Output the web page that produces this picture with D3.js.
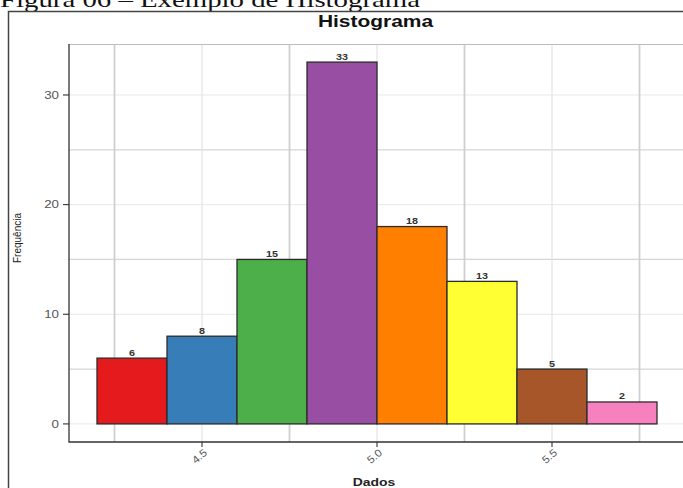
<!DOCTYPE html>
<html><head><meta charset="utf-8">
<script src="https://cdn.jsdelivr.net/npm/d3@7"></script>
<style>body{margin:0;background:#fff}svg{display:block}</style>
</head><body><svg id="c" width="683" height="488"></svg>
<script>
const binStarts = [4.2, 4.4, 4.6, 4.8, 5.0, 5.2, 5.4, 5.6];
const binWidth = 0.2;
const counts = [6, 8, 15, 33, 18, 13, 5, 2];
const colors = ["#E41A1C", "#377EB8", "#4DAF4A", "#984EA3", "#FF7F00", "#FFFF33", "#A65628", "#F781BF"];
const xTicks = [4.5, 5.0, 5.5];
const xMinor = [4.25, 4.75, 5.25, 5.75];
const yTicks = [0, 10, 20, 30];
const yMinor = [5, 15, 25];
const title = "Histograma";
const xLabel = "Dados";
const yLabel = "Frequência";
const caption = "Figura 06 – Exemplo de Histograma";

const svg = d3.select("#c");
const SX = 1.27;
const font = "'Liberation Sans', Arial, sans-serif";

const x = d3.scaleLinear().domain([4.12, 5.88]).range([69, 685]);
const y = d3.scaleLinear().domain([-1.65, 34.65]).range([442, 44]);

// caption (cut off at top in the reference)
svg.append("text").attr("x", 0).attr("y", 7)
  .attr("font-family", "'Liberation Serif', 'Times New Roman', serif")
  .attr("font-size", 21).attr("fill", "#111")
  .attr("textLength", 420).attr("lengthAdjust", "spacingAndGlyphs")
  .text(caption);

// frame
svg.append("path").attr("d", "M8.5,488 V11.5 H683").attr("fill", "none")
  .attr("stroke", "#444").attr("stroke-width", 1.5);

// grid
const g = svg.append("g");
g.selectAll(".ymaj").data(yTicks).join("line")
  .attr("x1", 69).attr("x2", 683).attr("y1", d => y(d)).attr("y2", d => y(d))
  .attr("stroke", "#e8e8e8").attr("stroke-width", 1);
g.selectAll(".ymin").data(yMinor).join("line")
  .attr("x1", 69).attr("x2", 683).attr("y1", d => y(d)).attr("y2", d => y(d))
  .attr("stroke", "#d6d6d6").attr("stroke-width", 1.2);
g.selectAll(".xmaj").data(xTicks).join("line")
  .attr("y1", 44).attr("y2", 442).attr("x1", d => x(d)).attr("x2", d => x(d))
  .attr("stroke", "#e3e3e3").attr("stroke-width", 1.2);
g.selectAll(".xmin").data(xMinor).join("line")
  .attr("y1", 44).attr("y2", 442).attr("x1", d => x(d)).attr("x2", d => x(d))
  .attr("stroke", "#cfcfcf").attr("stroke-width", 1.8);
// panel top border
svg.append("line").attr("x1", 69).attr("x2", 683).attr("y1", 44.5).attr("y2", 44.5)
  .attr("stroke", "#bdbdbd").attr("stroke-width", 1.2);

// bars
svg.selectAll(".bar").data(counts).join("rect")
  .attr("x", (d, i) => x(binStarts[i]))
  .attr("width", (d, i) => x(binStarts[i] + binWidth) - x(binStarts[i]))
  .attr("y", d => y(d)).attr("height", d => y(0) - y(d))
  .attr("fill", (d, i) => colors[i]).attr("stroke", "#2b2b2b").attr("stroke-width", 1.3);

// bar labels
svg.selectAll(".bl").data(counts).join("text")
  .attr("transform", (d, i) => `translate(${x(binStarts[i] + binWidth / 2)},${y(d) - 2.5}) scale(${SX},1)`)
  .attr("text-anchor", "middle").attr("font-family", font).attr("font-weight", "bold")
  .attr("font-size", 8.5).attr("fill", "#333").text(d => d);

// axes lines
svg.append("path").attr("d", "M69,44 V442 H683").attr("fill", "none")
  .attr("stroke", "#333").attr("stroke-width", 1.3);

// y ticks
svg.selectAll(".yt").data(yTicks).join("line")
  .attr("x1", 63).attr("x2", 69).attr("y1", d => y(d)).attr("y2", d => y(d))
  .attr("stroke", "#333").attr("stroke-width", 1.1);
svg.selectAll(".ytl").data(yTicks).join("text")
  .attr("transform", d => `translate(59,${y(d) + 3.6}) scale(${SX},1)`)
  .attr("text-anchor", "end").attr("font-family", font).attr("font-size", 10.5)
  .attr("fill", "#555").text(d => d);

// x ticks
svg.selectAll(".xt").data(xTicks).join("line")
  .attr("y1", 442).attr("y2", 447).attr("x1", d => x(d)).attr("x2", d => x(d))
  .attr("stroke", "#333").attr("stroke-width", 1.1);
svg.selectAll(".xtl").data(xTicks).join("text")
  .attr("transform", d => `translate(${x(d) - 2},${457}) rotate(-40) scale(1.1,1)`)
  .attr("text-anchor", "middle").attr("dominant-baseline", "middle")
  .attr("font-family", font).attr("font-size", 10.5)
  .attr("fill", "#555").text(d => d3.format(".1f")(d));

// title
svg.append("text").attr("transform", `translate(375.5,26.5) scale(${SX},1)`)
  .attr("text-anchor", "middle").attr("font-family", font).attr("font-weight", "bold")
  .attr("font-size", 16.5).attr("fill", "#111").text(title);

// axis labels
svg.append("text").attr("transform", `translate(374,486) scale(${SX},1)`)
  .attr("text-anchor", "middle").attr("font-family", font).attr("font-weight", "bold")
  .attr("font-size", 11).attr("fill", "#222").text(xLabel);
svg.append("text").attr("transform", `translate(21,238) rotate(-90)`)
  .attr("text-anchor", "middle").attr("font-family", font)
  .attr("font-size", 10).attr("fill", "#222").text(yLabel);
</script></body></html>
